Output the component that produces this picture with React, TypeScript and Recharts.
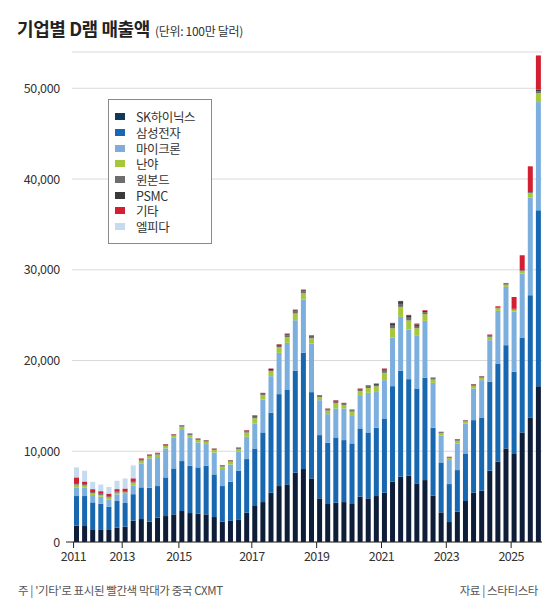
import { BarChart, Bar, XAxis, YAxis, CartesianGrid } from 'recharts';

// 2011 Q3 ~ 2025 Q4, 분기별
const quarters: string[] = [];
for (let y = 2011; y <= 2025; y++) {
  for (let q = 1; q <= 4; q++) {
    if (y === 2011 && q < 3) continue;
    quarters.push(`${y}Q${q}`);
  }
}

const skHynix = [
  1800, 1760, 1320, 1395, 1320, 1580, 1690, 2350,
  2530, 2240, 2680, 2860, 3045, 3415, 3190, 3120, 3045, 2750, 2240, 2330,
  2495, 3230, 3965, 4400, 5430, 6165, 6350, 7635, 8040, 7010,
  4810, 4185, 4330, 4400, 4185, 4990, 4810, 5065, 5430, 6640,
  7190, 7300, 6460, 6825, 5100, 3265, 2200, 3340, 4515, 5430,
  5650, 7855, 8845, 10310, 9690, 12075, 13725, 17175,
];
const samsung = [
  3265, 3305, 3050, 2825, 2570, 2935, 2605, 2920,
  3490, 3740, 3485, 4260, 5065, 5505, 5215, 5100, 5360, 4700, 3925, 4310,
  5360, 5910, 6345, 7675, 8810, 10130, 10460, 11230, 12805, 9505,
  6970, 6750, 7195, 6830, 6680, 7525, 7265, 7525, 8185, 10535,
  11675, 10645, 10460, 11270, 7490, 5505, 4185, 4585, 5245, 8000,
  8075, 9795, 10825, 11380, 9065, 10460, 13470, 19375,
];
const micron = [
  955, 955, 805, 770, 810, 735, 990, 970,
  2640, 3230, 3195, 3190, 3380, 3520, 3120, 2755, 2385, 2420, 1875, 1900,
  2090, 2460, 2755, 3635, 4035, 4550, 5140, 5575, 5875, 5355,
  3850, 3155, 3190, 3485, 3115, 3670, 4365, 4035, 4220, 5360,
  5945, 5470, 5800, 6275, 4950, 2940, 2645, 2940, 3305, 3490,
  4110, 4590, 5800, 6420, 6645, 7045, 10755, 11930,
];
const nanya = [
  300, 200, 180, 190, 200, 180, 180, 300,
  300, 260, 270, 280, 240, 270, 270, 270, 270, 270, 270, 320,
  300, 460, 580, 460, 530, 600, 640, 740, 690, 580,
  350, 390, 580, 390, 390, 460, 530, 530, 810, 1000,
  1100, 1000, 840, 730, 360, 270, 220, 290, 220, 290,
  270, 370, 290, 240, 200, 250, 500, 990,
];
const winbond = [
  80, 80, 70, 70, 70, 70, 70, 80,
  90, 80, 90, 90, 80, 90, 90, 90, 90, 90, 90, 90,
  90, 130, 170, 130, 150, 170, 180, 210, 200, 170,
  100, 120, 170, 120, 120, 140, 160, 160, 240, 300,
  330, 300, 250, 220, 110, 80, 70, 90, 70, 90,
  80, 110, 90, 70, 60, 70, 70, 220,
];
const psmc = [
  80, 70, 70, 60, 60, 60, 60, 70,
  70, 60, 60, 60, 50, 50, 50, 50, 50, 50, 50, 50,
  50, 90, 110, 90, 110, 120, 130, 150, 140, 110,
  70, 75, 110, 75, 75, 90, 100, 100, 160, 200,
  210, 200, 170, 145, 75, 55, 45, 60, 45, 60,
  55, 75, 60, 50, 40, 50, 50, 150,
];
const others = [
  640, 300, 330, 290, 300, 270, 300, 330,
  90, 40, 55, 50, 30, 30, 30, 30, 30, 30, 30, 30,
  35, 50, 55, 50, 55, 65, 75, 75, 70, 60,
  35, 40, 60, 40, 40, 45, 55, 55, 75, 115,
  120, 115, 95, 80, 45, 35, 30, 35, 30, 40,
  35, 70, 75, 80, 1310, 1650, 2830, 3780,
];
const elpida = [
  1100, 1180, 805, 735, 730, 915, 1100, 1420,
  0, 0, 0, 0, 0, 0, 0, 0, 0, 0, 0, 0,
  0, 0, 0, 0, 0, 0, 0, 0, 0, 0,
  0, 0, 0, 0, 0, 0, 0, 0, 0, 0,
  0, 0, 0, 0, 0, 0, 0, 0, 0, 0,
  0, 0, 0, 0, 0, 0, 0, 0,
];

const yTicks = [0, 10000, 20000, 30000, 40000, 50000];
const xTickKeys = ['2011Q3', '2013Q1', '2014Q4', '2017Q1', '2019Q1', '2021Q1', '2023Q1', '2025Q1'];
const xTickLabels = ['2011', '2013', '2015', '2017', '2019', '2021', '2023', '2025'];

const series = [
  { key: 'sk', name: 'SK하이닉스', values: skHynix, color: '#0e1d38', swatch: '#103a58' },
  { key: 'samsung', name: '삼성전자', values: samsung, color: '#1767b1', swatch: '#1767b1' },
  { key: 'micron', name: '마이크론', values: micron, color: '#7dafde', swatch: '#82acd8' },
  { key: 'nanya', name: '난야', values: nanya, color: '#a6c73a', swatch: '#a6c73a' },
  { key: 'winbond', name: '윈본드', values: winbond, color: '#6d6d6d', swatch: '#6d6d6d' },
  { key: 'psmc', name: 'PSMC', values: psmc, color: '#3a3a3a', swatch: '#3a3a3a' },
  { key: 'others', name: '기타', values: others, color: '#d31f32', swatch: '#d31f32' },
  { key: 'elpida', name: '엘피다', values: elpida, color: '#c6dbf0', swatch: '#c6dbf0' },
];

const data = quarters.map((q, i) => {
  const row: Record<string, string | number> = { q };
  series.forEach((s) => {
    row[s.key] = s.values[i];
  });
  return row;
});

const FONT = '"Noto Sans CJK KR", "Noto Sans", sans-serif';

const YTick = (props: any) => {
  const { x, y, payload } = props;
  return (
    <g>
      {payload.value === 0 && (
        <line x1={x + 6} x2={x + 12} y1={y} y2={y} stroke="#222" strokeWidth={1} />
      )}
      <text x={x} y={y + 4.5} textAnchor="end" fontSize={12.5} fill="#333" fontFamily={FONT}
        letterSpacing={-0.3}>
        {payload.value.toLocaleString('en-US')}
      </text>
    </g>
  );
};

const XTick = (props: any) => {
  const { x, y, payload } = props;
  const idx = xTickKeys.indexOf(payload.value);
  const tx = x - 2.5;
  return (
    <g>
      <line x1={tx} x2={tx} y1={y - 6} y2={y} stroke="#222" strokeWidth={1} />
      <text x={tx} y={y + 12.5} textAnchor="middle" fontSize={12.5} fill="#333" fontFamily={FONT}
        letterSpacing={-0.6}>
        {idx >= 0 ? xTickLabels[idx] : ''}
      </text>
    </g>
  );
};

export default function App() {
  return (
    <div style={{ position: 'absolute', left: 0, top: 0, width: 549, height: 604, background: '#fff', fontFamily: FONT }}>
      <div style={{ position: 'absolute', left: 17, top: 17, whiteSpace: 'nowrap', lineHeight: '22px', color: '#222' }}>
        <span style={{ fontSize: 18, fontWeight: 700, letterSpacing: -0.4 }}>기업별 D램 매출액</span>
        <span style={{ fontSize: 12, marginLeft: 5, color: '#333', letterSpacing: -0.3 }}>(단위: 100만 달러)</span>
      </div>

      <BarChart
        width={549}
        height={604}
        data={data}
        margin={{ top: 52, right: 7, left: 0, bottom: 32 }}
        style={{ position: 'absolute', left: 0, top: 0 }}
      >
        <CartesianGrid horizontal vertical={false} stroke="#dadada" />
        <YAxis
          width={72}
          domain={[0, 54000]}
          ticks={yTicks}
          axisLine={false}
          tickLine={false}
          tickSize={6}
          tickMargin={6}
          tick={(p: any) => <YTick {...p} />}
          allowDataOverflow
        />
        <XAxis
          dataKey="q"
          height={30}
          ticks={xTickKeys}
          interval={0}
          axisLine={{ stroke: '#222' }}
          tickLine={false}
          tickSize={6}
          tickMargin={0}
          tick={(p: any) => <XTick {...p} />}
        />
        {series.map((s) => (
          <Bar key={s.key} dataKey={s.key} name={s.name} stackId="a" fill={s.color} barSize={5} isAnimationActive={false} />
        ))}
      </BarChart>

      {/* 범례 */}
      <div
        style={{
          position: 'absolute', left: 108, top: 99, width: 104, height: 145,
          boxSizing: 'border-box', border: '1px solid #8a8a8a', background: '#fff',
          padding: '9px 0 0 6px',
        }}
      >
        {series.map((s) => (
          <div key={s.key} style={{ display: 'flex', alignItems: 'center', height: 15.7 }}>
            <div style={{ width: 10, height: 7, background: s.swatch, marginRight: 11 }} />
            <span style={{ display: 'inline-block', height: 15, fontSize: 12.5, color: '#333', letterSpacing: -0.4, lineHeight: '15px' }}>{s.name}</span>
          </div>
        ))}
      </div>

      <div style={{ position: 'absolute', left: 18, top: 582, fontSize: 11.5, lineHeight: '16px', color: '#555', letterSpacing: -0.4, whiteSpace: 'nowrap' }}>
        주 | '기타'로 표시된 빨간색 막대가 중국 CXMT
      </div>
      <div style={{ position: 'absolute', right: 11, top: 582, fontSize: 11.5, lineHeight: '16px', color: '#555', letterSpacing: -0.4, whiteSpace: 'nowrap' }}>
        자료 | 스타티스타
      </div>
    </div>
  );
}
